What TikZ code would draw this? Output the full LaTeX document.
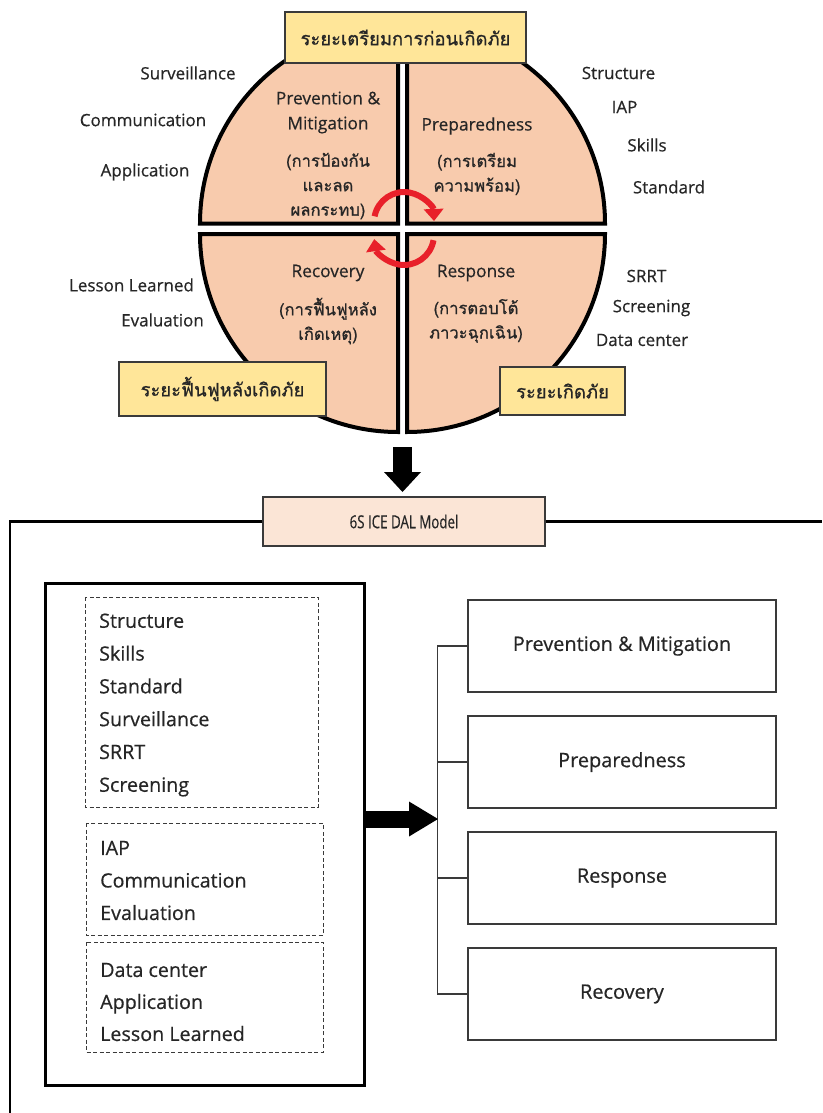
\documentclass[tikz,border=0pt]{standalone}
\usepackage{fontspec}
\setmainfont{Open Sans}[FakeBold=0.5]
\newfontfamily\thai[Script=Thai,FakeBold=0.9]{Loma}
\newfontfamily\narrowfont{Open Sans}[FakeStretch=0.74,FakeBold=0.5]
\usetikzlibrary{arrows.meta}
\definecolor{peach}{HTML}{F8CBAD}
\definecolor{ylw}{HTML}{FFE699}
\definecolor{mdl}{HTML}{FBE5D6}
\definecolor{txt}{HTML}{262626}
\definecolor{rarrow}{HTML}{E8202A}
\definecolor{edge}{HTML}{3A3A3A}
\tikzset{
  quad/.style={fill=peach, draw=black, line width=4pt},
  ybox/.style={draw=edge, line width=1.2pt, fill=ylw, inner sep=0pt, text=txt,
               font=\thai\fontsize{18.4}{21}\selectfont},
  lbl/.style={inner sep=0pt, text=txt, font=\fontsize{17}{20}\selectfont},
  qen/.style={inner sep=0pt, text=txt, align=center, font=\fontsize{17.3}{25}\selectfont},
  qth/.style={inner sep=0pt, text=txt, align=center, font=\thai\fontsize{16.6}{24.5}\selectfont},
  grp/.style={inner sep=0pt, text=txt, align=left, anchor=west},
  dbox/.style={draw=edge, line width=1pt, dash pattern=on 4pt off 2.5pt},
  rbox/.style={draw=edge, line width=1.5pt, minimum width=308pt, minimum height=92pt,
               inner sep=0pt, text=txt, font=\fontsize{19.9}{22}\selectfont},
  redarc/.style={draw=rarrow, line width=6pt,
               -{Triangle[length=12pt,width=20pt,line width=0pt]}},
}
\begin{document}
\begin{tikzpicture}[x=1pt,y=-1pt]
\useasboundingbox (0,0) rectangle (822,1113);
\fill[white] (0,0) rectangle (822,1113);

% ---- quadrants
\draw[quad] (398,223.5) -- (200,223.5) arc[start angle=180,end angle=90,radius=198pt] -- cycle;
\draw[quad] (407,223.5) -- (605,223.5) arc[start angle=0,end angle=90,radius=198pt] -- cycle;
\draw[quad] (398,234) -- (200,234) arc[start angle=180,end angle=270,radius=198pt] -- cycle;
\draw[quad] (407,234) -- (605,234) arc[start angle=0,end angle=-90,radius=198pt] -- cycle;

% ---- red circular arrows
\draw[redarc] (374.6,216.3) arc[start angle=169,end angle=2,radius=30pt];
\draw[redarc] (433.5,240.2) arc[start angle=-10,end angle=-172,radius=30pt];

% ---- phase boxes
\node[ybox, minimum width=241pt, minimum height=51pt] (pre) at (405.5,37.5) {ระยะเตรียมการก่อนเกิดภัย};
\node[ybox, minimum width=207pt, minimum height=54pt] (post) at (222.5,389) {ระยะฟื้นฟูหลังเกิดภัย};
\node[ybox, minimum width=125pt, minimum height=48pt] (during) at (562.5,391) {ระยะเกิดภัย};

% ---- quadrant texts
\node[qen] (pmE) at (328,112.5) {Prevention \&\\Mitigation};
\node[qth] (pmT) at (328,186) {(การป้องกัน\\และลด\\ผลกระทบ)};
\node[qen] (prE) at (477,126) {Preparedness};
\node[qth] (prT) at (477,174) {(การเตรียม\\ความพร้อม)};
\node[qen] (rcE) at (328,273) {Recovery};
\node[qth] (rcT) at (328,321) {(การฟื้นฟูหลัง\\เกิดเหตุ)};
\node[qen] (rsE) at (476,273) {Response};
\node[qth] (rsT) at (476,321) {(การตอบโต้\\ภาวะฉุกเฉิน)};

% ---- side labels
\node[lbl] (l1) at (188,73) {Surveillance};
\node[lbl] (l2) at (143,120) {Communication};
\node[lbl] (l3) at (145,172) {Application};
\node[lbl] (l4) at (131.5,285) {Lesson Learned};
\node[lbl] (l5) at (162.5,320) {Evaluation};
\node[lbl] (r1) at (618.5,73) {Structure};
\node[lbl] (r2) at (624.5,107) {IAP};
\node[lbl] (r3) at (647,145) {Skills};
\node[lbl] (r4) at (669,187) {Standard};
\node[lbl] (r5) at (646.5,276) {SRRT};
\node[lbl] (r6) at (651.5,308) {Screening};
\node[lbl] (r7) at (642,340) {Data center};

% ---- model box and frame
\node[draw=edge, line width=1.2pt, fill=mdl, minimum width=282pt, minimum height=49pt,
      inner sep=0pt, text=txt, font=\narrowfont\fontsize{18}{21}\selectfont] (model) at (404,521.5) {6S ICE DAL Model};
\coordinate (dtop) at (402.5,447);
\coordinate (dtip) at (402.5,492);
\draw[line width=19pt, -{Triangle[length=20pt,width=37pt,line width=0pt]}] (dtop) -- (dtip);
\coordinate (fl) at (10,1113);
\coordinate (fr) at (822,521.5);
\draw[line width=2.5pt] (model.west) -- (fl |- model.west) -- (fl);
\draw[line width=2.5pt] (model.east) -- (fr);

% ---- left box with groups
\node[draw=black, line width=3pt, minimum width=319pt, minimum height=502pt, inner sep=0pt] (lbox) at (204.5,834) {};
\draw[dbox] (85,597) rectangle (318,807);
\draw[dbox] (86,823) rectangle (323,935);
\draw[dbox] (86,942) rectangle (323,1052);
\node[grp, font=\fontsize{19.7}{32.8}\selectfont] (g1) at (99,705) {Structure\\Skills\\Standard\\Surveillance\\SRRT\\Screening};
\node[grp, font=\fontsize{19.7}{32.5}\selectfont] (g2) at (100,880.5) {IAP\\Communication\\Evaluation};
\node[grp, font=\fontsize{19.7}{32}\selectfont] (g3) at (100,1002) {Data center\\Application\\Lesson Learned};

% ---- right boxes
\node[rbox] (p1) at (622,646) {Prevention \& Mitigation};
\node[rbox] (p2) at (622,762) {Preparedness};
\node[rbox] (p3) at (622,878) {Response};
\node[rbox] (p4) at (622,994) {Recovery};
\draw[draw=edge, line width=1.5pt] (p1.west) -- ++(-30,0) |- (p4.west);
\draw[draw=edge, line width=1.5pt] (p2.west) -- ++(-30,0);
\draw[draw=edge, line width=1.5pt] (p3.west) -- ++(-30,0);
\coordinate (brk) at (438,819);
\draw[line width=17pt, -{Triangle[length=29pt,width=35pt,line width=0pt]}] (lbox.east |- brk) -- (brk);
\end{tikzpicture}
\end{document}
